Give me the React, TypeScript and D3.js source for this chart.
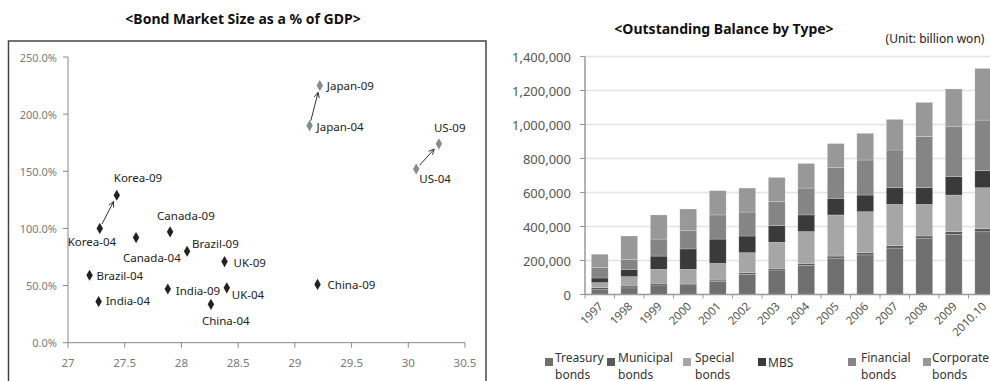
import React from "react";
import * as d3 from "d3";

// ---------- Left chart data ----------
const pointLabels = ["Korea-04","Korea-09","Japan-04","Japan-09","US-04","US-09","Canada-04","Canada-09","Brazil-04","Brazil-09","UK-04","UK-09","India-04","India-09","China-04","China-09"];
const pointX = [27.28,27.43,29.13,29.22,30.07,30.27,27.6,27.9,27.19,28.05,28.4,28.38,27.27,27.88,28.26,29.2];
const pointY = [1.0,1.29,1.9,2.25,1.52,1.74,0.92,0.97,0.59,0.8,0.48,0.71,0.36,0.47,0.336,0.51];
const grayPoints = ["Japan-04","Japan-09","US-04","US-09"];
const arrowPairs = [["Korea-04","Korea-09"],["Japan-04","Japan-09"],["US-04","US-09"]];
const xTicks = [27,27.5,28,28.5,29,29.5,30,30.5];
const yTicks = [0,0.5,1,1.5,2,2.5];

// label offsets (layout)
const labelDx = [-32,-3,7,7,3,-5,-13,-13,7,5,5,9,7,8,-9,10];
const labelDy = [12.7,-18,0.5,0,10,-16,19.7,-16.7,0.5,-8,7,0.5,-1,2,16,0];

// ---------- Right chart data ----------
const years = ["1997","1998","1999","2000","2001","2002","2003","2004","2005","2006","2007","2008","2009","2010.10"];
const seriesNames = ["Treasury bonds","Municipal bonds","Special bonds","MBS","Financial bonds","Corporate bonds"];
const treasury = [28000,39000,56000,57000,76000,119000,144000,172000,214000,233000,273000,329000,353000,369000];
const municipal = [12000,11000,10000,9000,9000,9000,10000,11000,12000,13000,14000,15000,17000,18000];
const special = [30000,55000,82000,82000,98000,118000,153000,187000,242000,241000,243000,186000,215000,241000];
const mbs = [27000,43000,78000,120000,143000,98000,98000,98000,98000,98000,98000,98000,108000,100000];
const financial = [63000,59000,100000,107000,142000,141000,141000,158000,180000,206000,222000,302000,294000,298000];
const corporate = [77000,137000,142000,128000,143000,141000,143000,145000,142000,157000,180000,200000,222000,304000];
const barTicks = [0,200000,400000,600000,800000,1000000,1200000,1400000];

const seriesColors = ["#6f6f6f","#5a5a5a","#a6a6a6","#3a3a3a","#858585","#989898"];
const legendLines = [["Treasury","bonds"],["Municipal","bonds"],["Special","bonds"],["MBS"],["Financial","bonds"],["Corporate","bonds"]];
const legendSwatchX = [545,607,683,758,848,923];
const legendTextX = [555,618,695,768,861,932];

const FONT = "'Noto Sans', 'DejaVu Sans', sans-serif";

export default function App() {
  const x = d3.scaleLinear().domain([27, 30.5]).range([68, 465]);
  const y = d3.scaleLinear().domain([0, 2.5]).range([342.7, 57]);
  const pct = d3.format(".1%");

  const xb = d3.scaleBand<string>().domain(years).range([585, 998]).paddingInner(0.43).paddingOuter(0.215);
  const yb = d3.scaleLinear().domain([0, 1400000]).range([294.5, 56.5]);
  const comma = d3.format(",");

  const rows = years.map((yr, i) => ({
    year: yr,
    s0: treasury[i], s1: municipal[i], s2: special[i], s3: mbs[i], s4: financial[i], s5: corporate[i],
  }));
  const stack = d3.stack<any>().keys(["s0","s1","s2","s3","s4","s5"]);
  const stacked = stack(rows);

  const diamond = d3.symbol().type(d3.symbolDiamond).size(36)();

  const idx = (name: string) => pointLabels.indexOf(name);

  const arrows = arrowPairs.map(([a, b]) => {
    const x1 = x(pointX[idx(a)]), y1 = y(pointY[idx(a)]);
    const x2 = x(pointX[idx(b)]), y2 = y(pointY[idx(b)]);
    const dx = x2 - x1, dy = y2 - y1;
    const len = Math.hypot(dx, dy);
    const ux = dx / len, uy = dy / len;
    const sx = x1 + ux * 5, sy = y1 + uy * 5;
    const ex = x2 - ux * 7, ey = y2 - uy * 7;
    const ang = Math.atan2(uy, ux);
    const h = 6, spread = 0.45;
    const h1 = [ex - h * Math.cos(ang - spread), ey - h * Math.sin(ang - spread)];
    const h2 = [ex - h * Math.cos(ang + spread), ey - h * Math.sin(ang + spread)];
    return { sx, sy, ex, ey, h1, h2 };
  });

  return (
    <svg width={990} height={381} style={{ position: "absolute", left: 0, top: 0, background: "#fff" }} fontFamily={FONT}>
      <rect x={0} y={0} width={990} height={381} fill="#fff" />
      {/* ---------- LEFT CHART ---------- */}
      <text x={243} y={24} textAnchor="middle" fontSize={14} fontWeight="bold" fill="#111">
        {"<Bond Market Size as a % of GDP>"}
      </text>
      <rect x={8.5} y={41} width={477.5} height={360} fill="none" stroke="#444" strokeWidth={1.5} />
      <line x1={x(27)} x2={x(27)} y1={y(2.5)} y2={y(0)} stroke="#888" strokeWidth={1} />
      <line x1={x(27)} x2={x(30.5)} y1={y(0)} y2={y(0)} stroke="#888" strokeWidth={1} />
      {yTicks.map((t) => (
        <g key={"yt" + t}>
          <line x1={x(27) - 5} x2={x(27)} y1={y(t)} y2={y(t)} stroke="#888" />
          <text x={57} y={y(t)} dominantBaseline="central" textAnchor="end" fontSize={11} fill="#7a7a7a">{pct(t)}</text>
        </g>
      ))}
      {xTicks.map((t) => (
        <g key={"xt" + t}>
          <line x1={x(t)} x2={x(t)} y1={y(0)} y2={y(0) + 5} stroke="#888" />
          <text x={x(t)} y={362.5} dominantBaseline="central" textAnchor="middle" fontSize={11.5} fill="#7a7a7a">{String(t)}</text>
        </g>
      ))}
      {arrows.map((a, i) => (
        <g key={"ar" + i} stroke="#333" strokeWidth={1} fill="none">
          <line x1={a.sx} y1={a.sy} x2={a.ex} y2={a.ey} />
          <polyline points={`${a.h1[0]},${a.h1[1]} ${a.ex},${a.ey} ${a.h2[0]},${a.h2[1]}`} />
        </g>
      ))}
      {pointLabels.map((name, i) => (
        <g key={name}>
          <path d={diamond as string} transform={`translate(${x(pointX[i])},${y(pointY[i])})`}
            fill={grayPoints.includes(name) ? "#8a8a8a" : "#222"} />
          <text x={x(pointX[i]) + labelDx[i]} y={y(pointY[i]) + labelDy[i]} dominantBaseline="central"
            fontSize={11.5} fill="#222">{name}</text>
        </g>
      ))}

      {/* ---------- RIGHT CHART ---------- */}
      <text x={724} y={34} textAnchor="middle" fontSize={14} fontWeight="bold" fill="#111">
        {"<Outstanding Balance by Type>"}
      </text>
      <text x={935} y={43} textAnchor="middle" fontSize={12} fill="#222">(Unit: billion won)</text>
      {barTicks.map((t) => (
        <g key={"bt" + t}>
          {t > 0 && <line x1={585} x2={990} y1={yb(t)} y2={yb(t)} stroke="#e3e3e3" strokeWidth={1.5} />}
          <line x1={580} x2={585} y1={yb(t)} y2={yb(t)} stroke="#999" />
          <text x={571} y={yb(t)} dominantBaseline="central" textAnchor="end" fontSize={13} fill="#555">{comma(t)}</text>
        </g>
      ))}
      <line x1={585} x2={585} y1={yb(1400000)} y2={yb(0)} stroke="#999" strokeWidth={1.5} />
      {stacked.map((layer, li) => (
        <g key={"layer" + li} fill={seriesColors[li]}>
          {layer.map((d: any) => (
            <rect key={d.data.year} x={xb(d.data.year)} width={xb.bandwidth()} y={yb(d[1])}
              height={Math.max(0, yb(d[0]) - yb(d[1]))} stroke="rgba(255,255,255,0.35)" strokeWidth={0.6} />
          ))}
        </g>
      ))}
      <line x1={585} x2={998} y1={yb(0)} y2={yb(0)} stroke="#999" strokeWidth={1.5} />
      {d3.range(years.length + 1).map((i) => {
        const px = 585 + i * xb.step();
        return <line key={"ct" + i} x1={px} x2={px} y1={yb(0)} y2={yb(0) + 4} stroke="#999" />;
      })}
      {years.map((yr) => {
        const cx = (xb(yr) as number) + xb.bandwidth() / 2 + 4;
        return (
          <text key={"yl" + yr} transform={`translate(${cx},307) rotate(-45)`} textAnchor="end"
            fontSize={11.5} fill="#555">{yr}</text>
        );
      })}
      {seriesNames.map((s, i) => (
        <g key={"lg" + s}>
          <rect x={legendSwatchX[i]} y={358} width={8} height={8} fill={seriesColors[i]} />
          {legendLines[i].length === 1 ? (
            <text x={legendTextX[i]} y={362} dominantBaseline="central" fontSize={12} fill="#333">{legendLines[i][0]}</text>
          ) : (
            <>
              <text x={legendTextX[i]} y={357} dominantBaseline="central" fontSize={12} fill="#333">{legendLines[i][0]}</text>
              <text x={legendTextX[i]} y={374} dominantBaseline="central" fontSize={12} fill="#333">{legendLines[i][1]}</text>
            </>
          )}
        </g>
      ))}
    </svg>
  );
}
